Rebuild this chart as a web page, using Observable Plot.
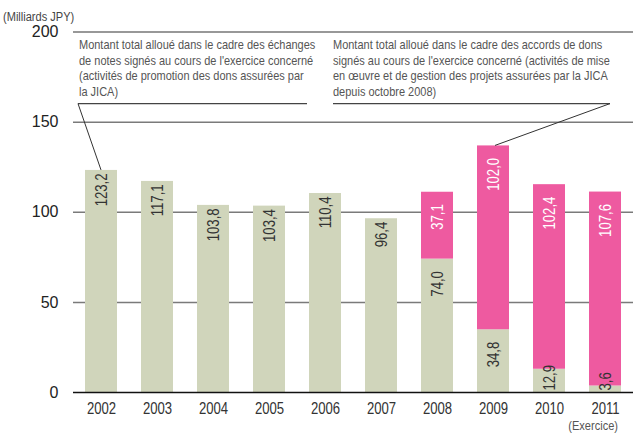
<!DOCTYPE html>
<html><head><meta charset="utf-8">
<script src="https://cdn.jsdelivr.net/npm/d3@7"></script>
<script src="https://cdn.jsdelivr.net/npm/@observablehq/plot@0.6"></script>
<style>
html,body{margin:0;padding:0;background:#fff;}
#chart svg{display:block;}
</style></head><body><div id="chart"></div>
<script>
// ---- data ----
const years = ["2002","2003","2004","2005","2006","2007","2008","2009","2010","2011"];
const exchangeNotes = [123.2,117.1,103.8,103.4,110.4,96.4,74.0,34.8,12.9,3.6];
const grantAgreements = [null,null,null,null,null,null,37.1,102.0,102.4,107.6];
const yTicks = [0,50,100,150,200];
const unitLabel = "(Milliards JPY)";
const xTitle = "(Exercice)";
const noteLeft = [
  "Montant total alloué dans le cadre des échanges",
  "de notes signés au cours de l'exercice concerné",
  "(activités de promotion des dons assurées par",
  "la JICA)"
];
const noteRight = [
  "Montant total alloué dans le cadre des accords de dons",
  "signés au cours de l'exercice concerné (activités de mise",
  "en œuvre et de gestion des projets assurées par la JICA",
  "depuis octobre 2008)"
];

// ---- style ----
const GREEN = "#d0d5bb", PINK = "#ee5aa0";
const FONT = '"Liberation Sans",Arial,sans-serif';
const NARROW_K = 0.82; // horizontal condensing, like a narrow face
const fmt = v => v.toFixed(1).replace(".", ",");

const segs = [];
years.forEach((year, i) => {
  const g = exchangeNotes[i], p = grantAgreements[i];
  segs.push({year, kind: "notes", y1: 0, y2: g, value: g, stacked: p != null});
  if (p != null) segs.push({year, kind: "grants", y1: g, y2: g + p, value: p, stacked: true});
});
const fillOf = d => d.kind === "notes" ? GREEN : PINK;
const inkOf = d => d.kind === "notes" ? "#333" : "#fff";
const big = segs.filter(d => d.value >= 20);
const small = segs.filter(d => d.value < 20);
const totals = years.map((y, i) => exchangeNotes[i] + (grantAgreements[i] || 0));

const plot = Plot.plot({
  width: 640, height: 437,
  marginLeft: 73, marginRight: 7, marginTop: 31.5, marginBottom: 45,
  style: {fontFamily: FONT, background: "#fff", overflow: "visible"},
  x: {domain: years, paddingInner: 0.43, paddingOuter: 0.215, align: 0.5, label: null},
  y: {domain: [0, 200], label: null},
  color: {type: "identity"},
  marks: [
    Plot.ruleY([50, 100, 150], {stroke: "#7a7a7a", strokeWidth: 1.5}),
    Plot.ruleY([200], {stroke: "#333", strokeWidth: 1.2}),
    Plot.barY(segs, {x: "year", y1: "y1", y2: "y2", fill: fillOf}),
    Plot.ruleY([0], {stroke: "#111", strokeWidth: 1.5}),
    Plot.text(big.filter(d => !d.stacked), {x: "year", y: "y2", text: d => fmt(d.value), rotate: -90, textAnchor: "end", dy: 3, fill: inkOf, fontSize: 16}),
    Plot.text(big.filter(d => d.stacked), {x: "year", y: "y2", text: d => fmt(d.value), rotate: -90, textAnchor: "end", dy: 12, fill: inkOf, fontSize: 16}),
    Plot.text(small, {x: "year", y: "y1", text: d => fmt(d.value), rotate: -90, textAnchor: "start", dy: -2, fill: inkOf, fontSize: 16}),
    Plot.axisY({ticks: yTicks, tickSize: 0, tickPadding: 15, fontSize: 16, fill: "#222", label: null}),
    Plot.axisX({tickSize: 0, tickPadding: 10, fontSize: 16, fill: "#333", label: null})
  ]
});
document.getElementById("chart").appendChild(plot);

// condense text horizontally (no narrow face installed); keep em-based offsets
const isNum = v => v != null && v !== "" && /^-?[\d.]+$/.test(String(v).trim());
function condense(nodes, k) {
  nodes.each(function () {
    const t = d3.select(this);
    const ax = t.attr("x"), ay = t.attr("y");
    const x = isNum(ax) ? +ax : 0, y = isNum(ay) ? +ay : 0;
    if (isNum(ax)) t.attr("x", null);
    if (isNum(ay)) t.attr("y", null);
    const tr = t.attr("transform") || "";
    t.attr("transform", `${tr} translate(${x},${y}) scale(${k},1)`);
  });
}
const svg = d3.select(plot);
condense(svg.selectAll("text").filter(function () {
  const p = this.parentNode && this.parentNode.getAttribute("aria-label");
  return !(p && p.indexOf("y-axis") >= 0);
}), NARROW_K);

// ---- annotations, positioned through the plot's scales ----
const sx = plot.scale("x"), sy = plot.scale("y");
const bandX = d3.scaleBand().domain(sx.domain).range(sx.range)
  .paddingInner(sx.paddingInner).paddingOuter(sx.paddingOuter).align(sx.align);
const X = v => (sx.apply ? sx.apply(v) : bandX(v));
const BW = sx.bandwidth != null ? sx.bandwidth : bandX.bandwidth();
const Y = v => (sy.apply ? sy.apply(v) : d3.scaleLinear().domain(sy.domain).range(sy.range)(v));
const g = svg.append("g");
const noteY = Y(160);

// left note
const lx0 = X("2002") - 7, lx1 = X("2006") - 2;
g.append("line").attr("x1", lx0).attr("x2", lx1).attr("y1", noteY).attr("y2", noteY).attr("stroke", "#444").attr("stroke-width", 1.1);
g.append("line").attr("x1", lx0).attr("y1", noteY).attr("x2", X("2002") + BW / 2).attr("y2", Y(totals[0])).attr("stroke", "#333").attr("stroke-width", 1);
// right note
const rx0 = X("2006") + 24, rx1 = X("2011") + BW / 2 + 5;
g.append("line").attr("x1", rx0).attr("x2", rx1).attr("y1", noteY).attr("y2", noteY).attr("stroke", "#444").attr("stroke-width", 1.1);
g.append("line").attr("x1", rx1).attr("y1", noteY).attr("x2", X("2009") + BW / 2 + 2).attr("y2", Y(totals[7])).attr("stroke", "#333").attr("stroke-width", 1);

function label(s, x, y, size, fill, anchor) {
  return g.append("text").attr("x", x).attr("y", y).attr("font-family", FONT).attr("font-size", size)
    .attr("fill", fill).attr("text-anchor", anchor || "start").text(s);
}
const added = [];
noteLeft.forEach((s, i) => added.push(label(s, lx0 + 1, 49 + i * 15.5, 13.4, "#555").node()));
noteRight.forEach((s, i) => added.push(label(s, rx0, 49 + i * 15.5, 13.4, "#555").node()));
added.push(label(unitLabel, 3, 21, 13.5, "#444").node());
added.push(label(xTitle, X("2011") + BW - 3, 430, 13.5, "#555", "end").node());
condense(d3.selectAll(added), NARROW_K);
</script></body></html>
